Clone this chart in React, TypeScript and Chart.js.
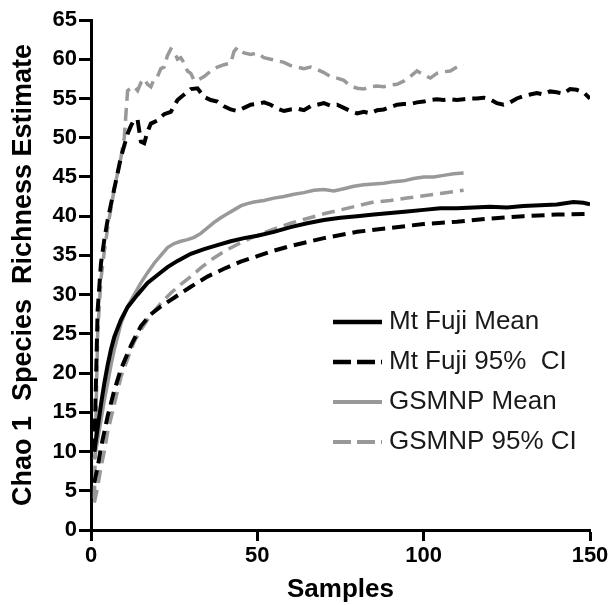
import React, { useEffect, useRef } from "react";
import { Chart, registerables } from "chart.js";

Chart.register(...registerables);

const FONT = "'Liberation Sans', Arial, Helvetica, sans-serif";

// ---- Data ----
const fujiMeanX = [1, 2, 3, 4, 5, 6, 7, 9, 11, 14, 17, 20, 23, 26, 30, 34, 38, 42, 46, 50, 55, 60, 65, 70, 75, 80, 85, 90, 95, 100, 105, 110, 115, 120, 125, 130, 135, 140, 145, 148, 150];
const fujiMeanY = [10, 13, 16, 18.7, 21, 23, 24.6, 26.8, 28.4, 30, 31.5, 32.5, 33.5, 34.3, 35.2, 35.8, 36.3, 36.8, 37.2, 37.5, 38, 38.6, 39.1, 39.5, 39.8, 40, 40.2, 40.4, 40.6, 40.8, 41, 41, 41.1, 41.2, 41.1, 41.3, 41.4, 41.5, 41.8, 41.7, 41.5];

const fujiLowX = [1, 2, 3, 5, 7, 9, 12, 15, 18, 21, 25, 30, 35, 40, 45, 50, 55, 60, 65, 70, 75, 80, 90, 100, 110, 120, 130, 140, 150];
const fujiLowY = [6, 8, 10.5, 14.5, 17.8, 20.5, 23.5, 26, 27.5, 28.5, 29.6, 31, 32.3, 33.3, 34.2, 34.9, 35.6, 36.2, 36.7, 37.2, 37.6, 38, 38.5, 39, 39.3, 39.7, 40, 40.2, 40.3];

const fujiHighX = [1, 2, 3, 4, 5, 6, 7, 8, 9, 10, 11, 12, 13, 14, 15, 16, 17, 18,
  20, 22, 24, 26, 28, 30, 32, 34, 36, 38, 40, 42, 44, 46, 48, 50, 52, 54, 56, 58, 60, 62, 64, 66, 68, 70, 72, 74, 76, 78, 80, 82, 84,
  86, 88, 90, 92, 94, 96, 98, 100, 102, 104, 106, 108, 110, 112, 114, 116, 118, 120, 122, 124, 126, 128, 130, 132, 134, 136, 138, 140, 142, 144, 146, 148, 150];
const fujiHighY = [10, 28, 34, 37, 39.5, 41.5, 43.5, 45.5, 47.5, 49, 50.5, 51.5, 52.3, 52.3, 49.5, 49.3, 50.8, 51.8,
  52.2, 53, 53.3, 54.8, 55.5, 56.2, 56.3, 55.2, 54.8, 54.6, 54, 53.6, 53.4, 53.8, 54.2, 54.3, 54.5, 54.2, 53.7, 53.4, 53.6, 53.7, 53.5, 54, 54.2, 54.4, 54.1, 54.2, 53.8, 53.4, 53.1, 53.3, 53.1,
  53.5, 53.6, 53.9, 54.2, 54.3, 54.3, 54.5, 54.6, 54.8, 54.9, 54.8, 54.9, 54.8, 54.9, 55, 55, 55.1, 54.9, 54.4, 54.2, 54.5, 55, 55.3, 55.5, 55.7, 55.5, 55.9, 55.8, 55.6, 56.2, 56.1, 55.8, 55];

const gsmMeanX = [1, 2, 3, 4, 5, 6, 7, 9, 11, 13, 15, 17, 19, 21, 23, 25, 27, 29, 31, 33, 35, 37, 39, 41, 43, 45, 47, 49, 52, 55, 58, 61, 64, 67, 70, 73, 76, 79, 82, 85, 88, 91, 94, 97, 100, 103, 106, 109, 112];
const gsmMeanY = [9, 11.5, 14, 16.5, 18.7, 21, 23, 26.3, 28.5, 30, 31.5, 32.8, 34, 35, 36, 36.5, 36.8, 37, 37.3, 37.8, 38.5, 39.2, 39.8, 40.3, 40.8, 41.3, 41.6, 41.8, 42, 42.3, 42.5, 42.8, 43, 43.3, 43.4, 43.2, 43.5, 43.8, 44, 44.1, 44.2, 44.4, 44.5, 44.8, 45, 45, 45.2, 45.4, 45.5];

const gsmLowX = [1, 2, 3, 4, 5, 7, 9, 11, 13, 15, 17, 19, 21, 24, 27, 30, 33, 36, 40, 44, 48, 52, 56, 60, 65, 70, 75, 80, 85, 90, 95, 100, 105, 112];
const gsmLowY = [3.5, 5.5, 8, 10, 12.5, 16, 19.5, 21.8, 24, 25.5, 26.8, 27.9, 28.9, 30.2, 31.3, 32.3, 33.4, 34.4, 35.5, 36.4, 37.2, 37.9, 38.5, 39.1, 39.7, 40.3, 40.8, 41.3, 41.8, 42, 42.3, 42.6, 42.9, 43.3];

const gsmHighX = [1, 2, 3, 4, 5, 6, 7, 8, 9, 10, 11, 12, 13, 14, 15, 16, 17, 18, 19, 20, 21, 22, 23, 24, 25, 26, 27, 28, 29, 30, 31, 32,
  34, 36, 38, 40, 42, 43, 44, 46, 48, 50, 52, 54, 56, 58, 60, 62, 64, 66, 68, 70, 72, 74, 76, 78, 80, 82, 84, 86, 88, 90, 92, 94, 96, 98, 100, 102, 104, 106, 108, 110, 112];
const gsmHighY = [4, 25, 32, 35.5, 38.5, 41, 43.5, 45.5, 47.5, 50, 56, 56.3, 56.5, 56, 57, 57.5, 56.8, 56.5, 57.5, 57.8, 58.8, 59, 60.5, 61.3, 61, 60, 60.2, 59.5, 58.5, 58.2, 57.3, 57.3,
  57.8, 58.5, 59, 59.3, 59.5, 61, 61.5, 60.8, 60.6, 60.8, 60.2, 60, 59.8, 59.6, 59.2, 59, 58.8, 59, 58.7, 58.3, 57.8, 57.6, 57.3, 56.6, 56.3, 56.2, 56.5, 56.6, 56.5, 56.7, 56.8, 57.2, 57.8, 58.5, 58, 57.6, 58.2, 58.4, 58.5, 59, 59.3];

const legendLabels = ["Mt Fuji Mean", "Mt Fuji 95%  CI", "GSMNP Mean", "GSMNP 95% CI"];
const yTitle = "Chao 1  Species  Richness Estimate";
const xTitle = "Samples";

const BLACK = "#000000";
const GRAY = "#999999";

const pts = (xs: number[], ys: number[]) => xs.map((x, i) => ({ x, y: ys[i] }));

const legendStyles = [
  { color: BLACK, width: 4.5, dash: [] as number[] },
  { color: BLACK, width: 4.5, dash: [18, 6] },
  { color: GRAY, width: 4, dash: [] as number[] },
  { color: GRAY, width: 4, dash: [18, 6] },
];

const insideLegend = {
  id: "insideLegend",
  afterDraw(chart: any) {
    const ctx = chart.ctx as CanvasRenderingContext2D;
    ctx.save();
    ctx.font = `26px ${FONT}`;
    ctx.textBaseline = "middle";
    ctx.textAlign = "left";
    legendLabels.forEach((label, i) => {
      const st = legendStyles[i];
      const y = 322 + i * 40;
      ctx.beginPath();
      ctx.strokeStyle = st.color;
      ctx.lineWidth = st.width;
      ctx.setLineDash(st.dash);
      ctx.moveTo(333, y);
      ctx.lineTo(382, y);
      ctx.stroke();
      ctx.setLineDash([]);
      ctx.fillStyle = "#1a1a1a";
      ctx.fillText(label, 389, y);
    });
    ctx.restore();
  },
};

export default function App() {
  const ref = useRef<HTMLCanvasElement | null>(null);

  useEffect(() => {
    if (!ref.current) return;
    const line = (data: any, color: string, width: number, dash: number[]) => ({
      data,
      borderColor: color,
      backgroundColor: color,
      borderWidth: width,
      borderDash: dash,
      pointRadius: 0,
      tension: 0,
      fill: false,
    });
    const chart = new Chart(ref.current, {
      type: "line",
      data: {
        datasets: [
          line(pts(fujiMeanX, fujiMeanY), BLACK, 4, []),
          line(pts(fujiHighX, fujiHighY), BLACK, 4, [13, 7]),
          line(pts(fujiLowX, fujiLowY), BLACK, 4, [13, 7]),
          line(pts(gsmMeanX, gsmMeanY), GRAY, 3.5, []),
          line(pts(gsmHighX, gsmHighY), GRAY, 3.5, [13, 7]),
          line(pts(gsmLowX, gsmLowY), GRAY, 3.5, [13, 7]),
        ],
      },
      options: {
        animation: false,
        responsive: false,
        devicePixelRatio: 1,
        layout: { padding: { top: 20, right: 21, left: 0, bottom: 0 } },
        plugins: { legend: { display: false }, tooltip: { enabled: false } },
        scales: {
          x: {
            type: "linear",
            min: 0,
            max: 150,
            afterFit: (s: any) => { s.height = 75; },
            ticks: { stepSize: 50, color: "#000", padding: 2, font: { family: FONT, size: 22, weight: "bold" } },
            grid: { display: true, drawOnChartArea: false, drawTicks: true, tickLength: 11, tickWidth: 3, tickColor: "#000" },
            border: { display: true, color: "#000", width: 3 },
            title: { display: true, text: xTitle, color: "#000", padding: { top: 0, bottom: 0 }, font: { family: FONT, size: 26, weight: "bold" } },
          },
          y: {
            type: "linear",
            min: 0,
            max: 65,
            afterFit: (s: any) => { s.width = 91; },
            ticks: { stepSize: 5, color: "#000", padding: 2, font: { family: FONT, size: 22, weight: "bold" } },
            grid: { display: true, drawOnChartArea: false, drawTicks: true, tickLength: 12, tickWidth: 3, tickColor: "#000" },
            border: { display: true, color: "#000", width: 3 },
            title: { display: true, text: yTitle, color: "#000", padding: { top: 7, bottom: 0 }, font: { family: FONT, size: 27, weight: "bold" } },
          },
        },
      },
      plugins: [insideLegend],
    } as any);
    return () => chart.destroy();
  }, []);

  return (
    <div style={{ position: "absolute", left: 0, top: 0, width: 611, height: 605, background: "#fff" }}>
      <canvas ref={ref} width={611} height={605} style={{ display: "block" }} />
    </div>
  );
}
